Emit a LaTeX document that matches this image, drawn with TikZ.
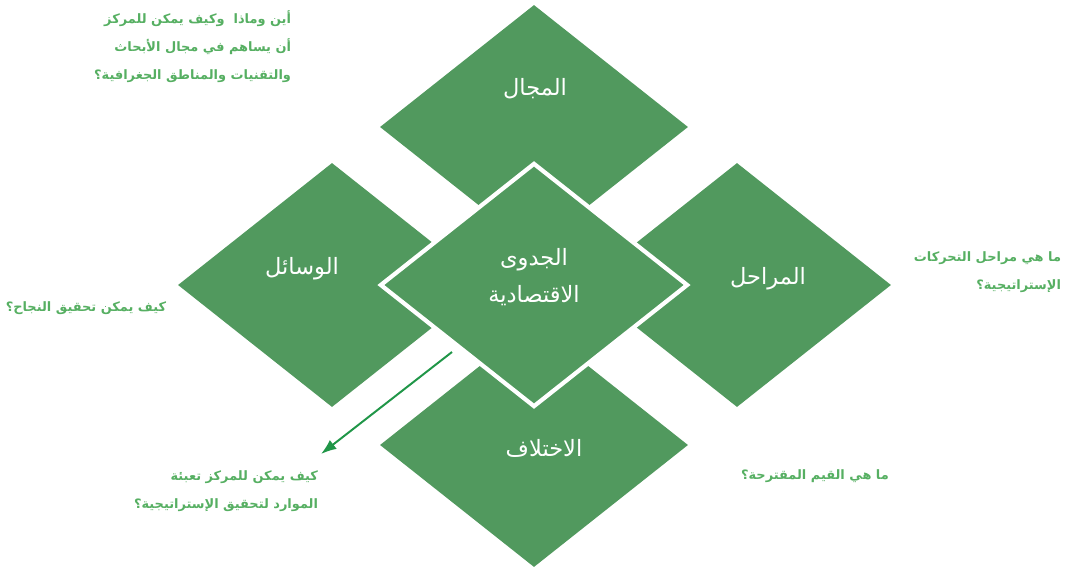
\documentclass[tikz,border=0pt]{standalone}
\usepackage{fontspec}
\usepackage{xcolor}
\usepackage{tikz}
\usetikzlibrary{shapes.geometric,arrows.meta}
\newfontfamily\arabicfont[Script=Arabic]{DejaVu Sans}
\TeXXeTstate=1
\definecolor{boxgreen}{RGB}{81,153,94}
\definecolor{notegreen}{RGB}{86,175,98}
\definecolor{arrowgreen}{RGB}{32,150,72}

\begin{document}
\begin{tikzpicture}[x=0.025cm, y=-0.025cm,
    diam/.style={diamond, fill=boxgreen, minimum width=7.7cm, minimum height=6.1cm, inner sep=0pt},
    lbl/.style={text=white, font=\arabicfont\fontsize{16}{26}\selectfont, align=center},
    note/.style={text=notegreen, font=\arabicfont\bfseries\fontsize{9.2}{20}\selectfont, align=right}]
            \useasboundingbox (0,0) rectangle (1068,567);

            % outer diamonds
            \node[diam] (majal) at (534,127) {};
            \node[diam] (wasail) at (332,285) {};
            \node[diam] (marahil) at (737,285) {};
            \node[diam] (ikhtilaf) at (534,445) {};
            % centre one, white rim
            \node[diam, draw=white, line width=3pt] (jadwa) at (534,285) {};

            \node[lbl] (tmajal) at (535,89) {\beginR المجال\endR};
            \node[lbl] (twasail) at (302,269) {\beginR الوسائل\endR};
            \node[lbl] (tmarahil) at (768,279) {\beginR المراحل\endR};
            \node[lbl] (tikhtilaf) at (544,448) {\beginR الاختلاف\endR};
            \node[lbl] (tjadwa) at (534,277) {\beginR الجدوى\endR\\ \beginR الاقتصادية\endR};

            \node[note, anchor=east] (qmajal) at (296,47) {\beginR أين وماذا\ \ وكيف يمكن للمركز\endR\\ \beginR أن يساهم في مجال الأبحاث\endR\\ \beginR والتقنيات والمناطق الجغرافية؟\endR};
            \node[note] (qwasail) at (86,308) {\beginR كيف يمكن تحقيق النجاح؟\endR};
            \node[note, anchor=east] (qmarahil) at (1066,272) {\beginR ما هي مراحل التحركات\endR\\ \beginR الإستراتيجية؟\endR};
            \node[note] (qikhtilaf) at (815,476) {\beginR ما هي القيم المقترحة؟\endR};
            \node[note, anchor=east] (qmawarid) at (323,491) {\beginR كيف يمكن للمركز تعبئة\endR\\ \beginR الموارد لتحقيق الإستراتيجية؟\endR};

            \coordinate (arrS) at (452,352);
            \coordinate (arrE) at (321,454);
            \draw[-{Latex[length=11pt,width=8pt]}, line width=1.4pt, arrowgreen] (arrS) -- (arrE);
        \end{tikzpicture}
\end{document}
